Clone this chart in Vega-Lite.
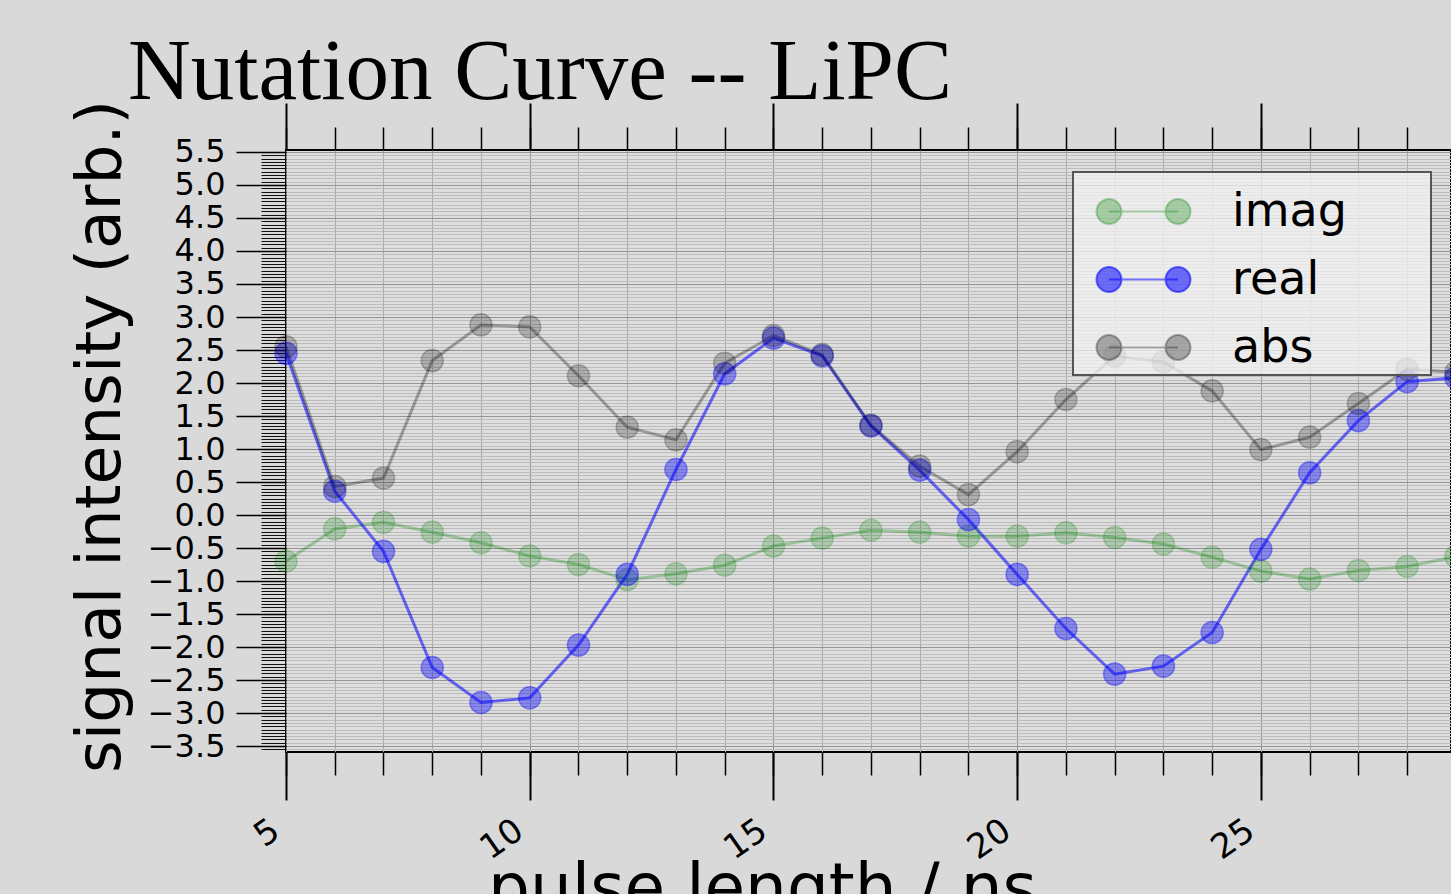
{
  "$schema": "https://vega.github.io/schema/vega-lite/v6.json",
  "autosize": {"type": "none"},
  "width": 1165,
  "height": 602,
  "padding": {"left": 286, "top": 150, "right": 0, "bottom": 142},
  "background": "#d9d9d9",
  "title": {
    "text": "Nutation Curve -- LiPC",
    "font": "Liberation Serif",
    "fontSize": 87,
    "fontWeight": "normal",
    "color": "black",
    "anchor": "start",
    "frame": "group",
    "dx": -158,
    "dy": 89,
    "baseline": "alphabetic",
    "offset": 2
  },
  "data": {
    "values": [
      {"t": 5, "series": "imag", "v": -0.70}, {"t": 6, "series": "imag", "v": -0.21}, {"t": 7, "series": "imag", "v": -0.11},
      {"t": 8, "series": "imag", "v": -0.26}, {"t": 9, "series": "imag", "v": -0.42}, {"t": 10, "series": "imag", "v": -0.62},
      {"t": 11, "series": "imag", "v": -0.75}, {"t": 12, "series": "imag", "v": -0.98}, {"t": 13, "series": "imag", "v": -0.89},
      {"t": 14, "series": "imag", "v": -0.76}, {"t": 15, "series": "imag", "v": -0.47}, {"t": 16, "series": "imag", "v": -0.35},
      {"t": 17, "series": "imag", "v": -0.23}, {"t": 18, "series": "imag", "v": -0.26}, {"t": 19, "series": "imag", "v": -0.32},
      {"t": 20, "series": "imag", "v": -0.32}, {"t": 21, "series": "imag", "v": -0.27}, {"t": 22, "series": "imag", "v": -0.34},
      {"t": 23, "series": "imag", "v": -0.44}, {"t": 24, "series": "imag", "v": -0.64}, {"t": 25, "series": "imag", "v": -0.85},
      {"t": 26, "series": "imag", "v": -0.97}, {"t": 27, "series": "imag", "v": -0.84}, {"t": 28, "series": "imag", "v": -0.78},
      {"t": 29, "series": "imag", "v": -0.63},
      {"t": 5, "series": "real", "v": 2.45}, {"t": 6, "series": "real", "v": 0.36}, {"t": 7, "series": "real", "v": -0.55},
      {"t": 8, "series": "real", "v": -2.31}, {"t": 9, "series": "real", "v": -2.84}, {"t": 10, "series": "real", "v": -2.77},
      {"t": 11, "series": "real", "v": -1.97}, {"t": 12, "series": "real", "v": -0.90}, {"t": 13, "series": "real", "v": 0.69},
      {"t": 14, "series": "real", "v": 2.14}, {"t": 15, "series": "real", "v": 2.68}, {"t": 16, "series": "real", "v": 2.41},
      {"t": 17, "series": "real", "v": 1.35}, {"t": 18, "series": "real", "v": 0.68}, {"t": 19, "series": "real", "v": -0.07},
      {"t": 20, "series": "real", "v": -0.90}, {"t": 21, "series": "real", "v": -1.72}, {"t": 22, "series": "real", "v": -2.41},
      {"t": 23, "series": "real", "v": -2.29}, {"t": 24, "series": "real", "v": -1.78}, {"t": 25, "series": "real", "v": -0.52},
      {"t": 26, "series": "real", "v": 0.64}, {"t": 27, "series": "real", "v": 1.43}, {"t": 28, "series": "real", "v": 2.02},
      {"t": 29, "series": "real", "v": 2.08},
      {"t": 5, "series": "abs", "v": 2.55}, {"t": 6, "series": "abs", "v": 0.43}, {"t": 7, "series": "abs", "v": 0.56},
      {"t": 8, "series": "abs", "v": 2.34}, {"t": 9, "series": "abs", "v": 2.88}, {"t": 10, "series": "abs", "v": 2.85},
      {"t": 11, "series": "abs", "v": 2.11}, {"t": 12, "series": "abs", "v": 1.33}, {"t": 13, "series": "abs", "v": 1.14},
      {"t": 14, "series": "abs", "v": 2.30}, {"t": 15, "series": "abs", "v": 2.72}, {"t": 16, "series": "abs", "v": 2.43},
      {"t": 17, "series": "abs", "v": 1.36}, {"t": 18, "series": "abs", "v": 0.74}, {"t": 19, "series": "abs", "v": 0.31},
      {"t": 20, "series": "abs", "v": 0.96}, {"t": 21, "series": "abs", "v": 1.75}, {"t": 22, "series": "abs", "v": 2.41},
      {"t": 23, "series": "abs", "v": 2.32}, {"t": 24, "series": "abs", "v": 1.88}, {"t": 25, "series": "abs", "v": 0.99},
      {"t": 26, "series": "abs", "v": 1.18}, {"t": 27, "series": "abs", "v": 1.69}, {"t": 28, "series": "abs", "v": 2.21},
      {"t": 29, "series": "abs", "v": 2.16}
    ]
  },
  "resolve": {"axis": {"x": "independent", "y": "independent"}},
  "layer": [
    {
      "mark": {"type": "line", "strokeWidth": 3, "clip": false},
      "encoding": {
        "x": {
          "field": "t", "type": "quantitative",
          "scale": {"domain": [5, 28.9], "nice": false, "zero": false},
          "axis": {
            "orient": "bottom", "values": [5,6,7,8,9,10,11,12,13,14,15,16,17,18,19,20,21,22,23,24,25,26,27,28],
            "tickSize": 23, "tickWidth": 1.5, "tickColor": "black", "labels": false, "domain": false,
            "grid": true, "gridColor": "#aaaaaa", "gridWidth": 1, "title": null
          }
        },
        "y": {
          "field": "v", "type": "quantitative",
          "scale": {"domain": [-3.59, 5.53], "nice": false, "zero": false},
          "axis": {
            "orient": "left", "tickCount": 200, "tickSize": 25, "tickWidth": 1, "tickColor": "#111",
            "labels": false, "domain": false, "grid": true, "gridColor": "#bcbcbc", "gridWidth": 1, "title": null
          }
        },
        "color": {
          "field": "series", "type": "nominal",
          "scale": {"domain": ["imag", "real", "abs"], "range": ["rgba(0,128,0,0.3)", "rgba(0,0,255,0.55)", "rgba(0,0,0,0.3)"]},
          "legend": {
            "title": null, "orient": "none", "legendX": 787, "legendY": 22,
            "padding": 4, "symbolOffset": 31, "symbolSize": 4761,
            "symbolType": "M -1.362 0 A 0.362 0.362 0 1 0 -0.638 0 A 0.362 0.362 0 1 0 -1.362 0 Z M 0.638 0 A 0.362 0.362 0 1 0 1.362 0 A 0.362 0.362 0 1 0 0.638 0 Z M -1 0 L 1 0 M 8.1 0",
            "symbolStrokeWidth": 2, "labelOffset": 53, "labelFontSize": 46, "labelFont": "DejaVu Sans", "labelColor": "black",
            "rowPadding": 9, "fillColor": "rgba(242,242,242,0.75)", "strokeColor": "#555555",
            "encode": {
              "symbols": {"update": {"stroke": {"scale": "color", "field": "value"}, "strokeWidth": {"value": 2}}},
              "legend": {"update": {"strokeWidth": {"value": 2}}}
            }
          }
        }
      }
    },
    {
      "mark": {"type": "point", "filled": true, "size": 490, "strokeWidth": 1.5, "clip": false},
      "encoding": {
        "x": {
          "field": "t", "type": "quantitative",
          "axis": {
            "orient": "bottom", "values": [5, 10, 15, 20, 25],
            "tickSize": 48, "tickWidth": 2, "tickColor": "black", "domain": false,
            "labelAngle": -35, "labelAlign": "right", "labelBaseline": "top", "labelPadding": 13, "labelOffset": -20,
            "labelFontSize": 34, "labelFlush": false, "labelOverlap": false,
            "grid": true, "gridColor": "#939393", "gridWidth": 1,
            "title": "pulse length / ns", "titleFontSize": 66, "titleX": 476, "titleY": 157,
            "titleAlign": "center", "titleBaseline": "alphabetic"
          }
        },
        "y": {
          "field": "v", "type": "quantitative",
          "axis": {
            "orient": "left", "values": [-3.5, -3, -2.5, -2, -1.5, -1, -0.5, 0, 0.5, 1, 1.5, 2, 2.5, 3, 3.5, 4, 4.5, 5, 5.5],
            "format": ".1f", "tickSize": 50, "tickWidth": 1.5, "tickColor": "black", "domain": false,
            "labelFontSize": 32, "labelPadding": 11, "labelOverlap": false, "labelBaseline": "middle",
            "grid": true, "gridColor": "#959595", "gridWidth": 1,
            "title": "signal intensity (arb.)", "titleFontSize": 63, "titleAngle": 270,
            "titleX": -186, "titleY": 286, "titleAlign": "center", "titleBaseline": "middle"
          }
        },
        "color": {
          "field": "series", "type": "nominal",
          "scale": {"domain": ["imag", "real", "abs"], "range": ["rgba(0,128,0,0.3)", "rgba(0,0,255,0.55)", "rgba(0,0,0,0.3)"]},
          "legend": {
            "title": null, "orient": "none", "legendX": 787, "legendY": 22,
            "padding": 4, "symbolOffset": 31, "symbolSize": 4761,
            "symbolType": "M -1.362 0 A 0.362 0.362 0 1 0 -0.638 0 A 0.362 0.362 0 1 0 -1.362 0 Z M 0.638 0 A 0.362 0.362 0 1 0 1.362 0 A 0.362 0.362 0 1 0 0.638 0 Z M -1 0 L 1 0 M 8.1 0",
            "symbolStrokeWidth": 2, "labelOffset": 53, "labelFontSize": 46, "labelFont": "DejaVu Sans", "labelColor": "black",
            "rowPadding": 9, "fillColor": "rgba(242,242,242,0.75)", "strokeColor": "#555555",
            "encode": {
              "symbols": {"update": {"stroke": {"scale": "color", "field": "value"}, "strokeWidth": {"value": 2}}},
              "legend": {"update": {"strokeWidth": {"value": 2}}}
            }
          }
        },
        "stroke": {
          "field": "series", "type": "nominal",
          "scale": {"domain": ["imag", "real", "abs"], "range": ["rgba(0,128,0,0.3)", "rgba(0,0,255,0.55)", "rgba(0,0,0,0.3)"]},
          "legend": null
        }
      }
    },
    {
      "mark": {"type": "point", "opacity": 0},
      "encoding": {
        "x": {
          "field": "t", "type": "quantitative",
          "axis": {
            "orient": "top", "values": [5, 10, 15, 20, 25, 30], "tickSize": 47, "tickWidth": 2, "tickColor": "black",
            "labels": false, "domain": false, "grid": false, "title": null
          }
        }
      }
    },
    {
      "mark": {"type": "point", "opacity": 0},
      "encoding": {
        "x": {
          "field": "t", "type": "quantitative",
          "axis": {
            "orient": "top", "values": [5,6,7,8,9,10,11,12,13,14,15,16,17,18,19,20,21,22,23,24,25,26,27,28],
            "tickSize": 23, "tickWidth": 1.5, "tickColor": "black",
            "labels": false, "domain": false, "grid": false, "title": null
          }
        }
      }
    }
  ],
  "config": {
    "view": {"fill": "#dedede", "stroke": "black", "strokeWidth": 2},
    "axis": {"labelFont": "DejaVu Sans", "titleFont": "DejaVu Sans", "labelColor": "black", "titleColor": "black", "titleFontWeight": "normal"}
  }
}
